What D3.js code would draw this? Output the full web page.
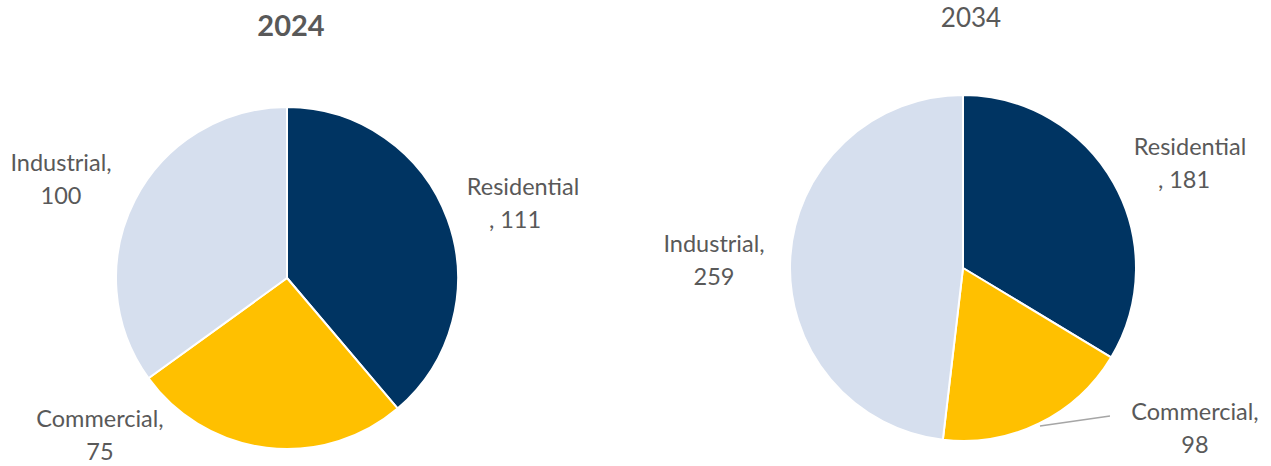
<!DOCTYPE html>
<html>
<head>
<meta charset="utf-8">
<script src="https://cdn.jsdelivr.net/npm/d3@7"></script>
<style>
  html, body { margin: 0; padding: 0; background: #ffffff; }
  svg { display: block; }
  text { font-family: Lato, "Open Sans", sans-serif; fill: #595959; }
</style>
</head>
<body>
<svg id="chart" width="1271" height="466"></svg>
<script>
// Electricity demand by sector
const categories = ["Residential", "Commercial", "Industrial"];
const values2024 = [111, 75, 100];
const values2034 = [181, 98, 259];
const years = ["2024", "2034"];

const colors = d3.scaleOrdinal()
  .domain(categories)
  .range(["#003462", "#ffc000", "#d6dfee"]);

// Layout for each pie: centre, radius, title placement and data-label offsets
const pies = [
  {
    year: years[0], values: values2024, cx: 287, cy: 278, r: 171,
    title: { x: 291, y: 36, weight: "bold", size: 29 },
    labels: {
      Residential: { dx: 236, dy: -83, lines: ["Residential", ", 111"], shift2: -8 },
      Commercial:  { dx: -187, dy: 149, lines: ["Commercial,", "75"] },
      Industrial:  { dx: -226, dy: -107, lines: ["Industrial,", "100"] }
    }
  },
  {
    year: years[1], values: values2034, cx: 963, cy: 268, r: 173,
    title: { x: 971, y: 27, weight: "normal", size: 26 },
    labels: {
      Residential: { dx: 227, dy: -113, lines: ["Residential", ", 181"], shift2: -6 },
      Commercial:  { dx: 232, dy: 152, lines: ["Commercial,", "98"] },
      Industrial:  { dx: -249, dy: -16, lines: ["Industrial,", "259"] }
    },
    leader: { from: "Commercial", fx: 1040, fy: 426, tx: 1110, ty: 416 }
  }
];

const svg = d3.select("#chart");
const pieGen = d3.pie().sort(null).value(d => d.value);

pies.forEach(p => {
  const data = categories.map((c, i) => ({ name: c, value: p.values[i] }));
  const arcs = pieGen(data);
  const arc = d3.arc().innerRadius(0).outerRadius(p.r);

  const g = svg.append("g").attr("transform", `translate(${p.cx},${p.cy})`);

  g.selectAll("path.slice")
    .data(arcs)
    .join("path")
    .attr("class", "slice")
    .attr("d", arc)
    .attr("fill", d => colors(d.data.name))
    .attr("stroke", "#ffffff")
    .attr("stroke-width", 2)
    .attr("stroke-linejoin", "round");

  // Leader line
  if (p.leader) {
    svg.append("line")
      .attr("x1", p.leader.fx).attr("y1", p.leader.fy)
      .attr("x2", p.leader.tx).attr("y2", p.leader.ty)
      .attr("stroke", "#a6a6a6")
      .attr("stroke-width", 1.5);
  }

  // Data labels
  arcs.forEach(a => {
    const L = p.labels[a.data.name];
    const t = svg.append("text")
      .attr("text-anchor", "middle")
      .attr("font-size", 23.5)
      .attr("x", p.cx + L.dx)
      .attr("y", p.cy + L.dy);
    t.append("tspan")
      .attr("x", p.cx + L.dx)
      .text(L.lines[0]);
    t.append("tspan")
      .attr("x", p.cx + L.dx + (L.shift2 || 0))
      .attr("dy", 33)
      .text(L.lines[1]);
  });

  // Title
  svg.append("text")
    .attr("x", p.title.x)
    .attr("y", p.title.y)
    .attr("text-anchor", "middle")
    .attr("font-size", p.title.size)
    .attr("font-weight", p.title.weight)
    .text(p.year);
});
</script>
</body>
</html>
